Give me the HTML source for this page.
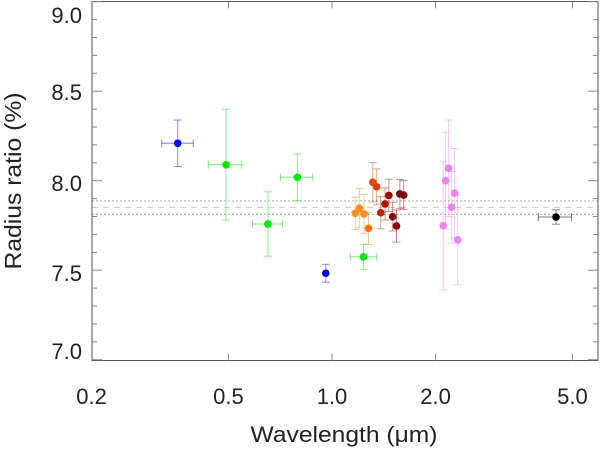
<!DOCTYPE html>
<html><head><meta charset="utf-8"><style>
body{margin:0;background:#fff;}
svg{display:block;font-family:"Liberation Sans",sans-serif;}
</style></head><body>
<svg id="chart" width="600" height="450">
<g id="axes"></g><g id="marks"></g>
</svg>
<script>
const xTicks=[0.2,0.5,1.0,2.0,5.0];
const xTickLabels=["0.2","0.5","1.0","2.0","5.0"];
const yTicks=[7.0,7.5,8.0,8.5,9.0];
const yTickLabels=["7.0","7.5","8.0","8.5","9.0"];
const wavelengths=[0.356,0.492,0.651,0.793,0.959,1.235,1.168,1.201,1.239,1.277,1.314,1.348,1.386,1.426,1.463,1.501,1.54,1.575,1.616,2.105,2.138,2.182,2.227,2.272,2.32,4.48];
const wlLow=[0.320,0.437,0.588,0.708,0.959,1.13,1.168,1.201,1.239,1.277,1.314,1.348,1.386,1.426,1.463,1.501,1.54,1.575,1.616,2.105,2.138,2.182,2.227,2.272,2.32,3.98];
const wlHigh=[0.395,0.547,0.718,0.879,0.959,1.35,1.168,1.201,1.239,1.277,1.314,1.348,1.386,1.426,1.463,1.501,1.54,1.575,1.616,2.105,2.138,2.182,2.227,2.272,2.32,4.97];
const ratios=[8.209,8.089,7.758,8.019,7.483,7.575,7.818,7.846,7.814,7.734,7.991,7.966,7.821,7.87,7.918,7.799,7.747,7.926,7.92,7.749,8.0,8.069,7.851,7.93,7.669,7.797];
const ratioErr=[0.13,0.31,0.18,0.13,0.05,0.07,0.09,0.11,0.11,0.09,0.11,0.1,0.09,0.09,0.09,0.08,0.09,0.08,0.08,0.36,0.27,0.27,0.2,0.25,0.25,0.04];
const colors=["#0000e6","#00e600","#00e600","#00e600","#0000e6","#00e600","#ff8a1e","#ff8a1e","#ff8a1e","#ff7010","#e04a00","#d84000","#c02000","#b51000","#a00000","#900000","#8a0000","#7a0000","#7a0000","#ee82ee","#ee82ee","#ee82ee","#ee82ee","#ee82ee","#ee82ee","#000000"];
const bandLevels=[7.887,7.851,7.812];

const L=92,R=598,T=1.5,B=360.5;
const X=v=>332+344*Math.log10(v);
const Y=v=>180.7-(v-8)*179;
const NS="http://www.w3.org/2000/svg";
function mk(parent,tag,attrs){const e=document.createElementNS(NS,tag);for(const k in attrs)e.setAttribute(k,attrs[k]);parent.appendChild(e);return e;}
const ax=document.getElementById('axes'),mg=document.getElementById('marks');

bandLevels.forEach((b,i)=>{
 const l=mk(ax,'line',{x1:L,x2:R,y1:Y(b),y2:Y(b),stroke:i==1?'#ccc':'#aaa','stroke-width':1,'stroke-dasharray':i==1?'6,5':'2,2'});
 
 
});
const frame=mk(ax,'rect',{x:L,y:T,width:R-L,height:B-T,fill:'none',stroke:'#555','stroke-width':1});


for(let k=0;k<=20;k++){const v=7+k*0.1;const y=Y(v);const major=k%5==0;
 mk(ax,'line',{x1:L,x2:L+(major?10:5),y1:y,y2:y,stroke:'#888'});mk(ax,'line',{x1:R,x2:R-(major?10:5),y1:y,y2:y,stroke:'#888'});}
const yLabelPos=[351,273,183,92,15];
yTicks.forEach((t,i)=>{const e=mk(ax,'text',{x:82,y:yLabelPos[i]+8,'text-anchor':'end','font-size':22,fill:'#222'});e.textContent=yTickLabels[i];
 });
xTicks.forEach((t,i)=>{const x=X(t);
 if(i>0){mk(ax,'line',{x1:x,x2:x,y1:B,y2:B-7,stroke:'#888'});mk(ax,'line',{x1:x,x2:x,y1:T,y2:T+7,stroke:'#888'});}
 const e=mk(ax,'text',{x:x,y:404,'text-anchor':'middle','font-size':22,fill:'#222'});e.textContent=xTickLabels[i];
 });
const xt=mk(ax,'text',{x:344,y:442,'text-anchor':'middle','font-size':22,fill:'#222',textLength:187,lengthAdjust:'spacingAndGlyphs'});xt.textContent='Wavelength (μm)';

const yt=mk(ax,'text',{x:0,y:0,'text-anchor':'middle','font-size':23,fill:'#222',textLength:177,lengthAdjust:'spacingAndGlyphs',transform:'translate(21,181) rotate(-90)'});yt.textContent='Radius ratio (%)';


wavelengths.forEach((w,i)=>{
 const g=mk(mg,'g',{});
 
 
 const x=X(w),y=Y(ratios[i]),c=colors[i];
 const y1=Y(ratios[i]+ratioErr[i]),y2=Y(ratios[i]-ratioErr[i]);
 mk(g,'line',{x1:x,x2:x,y1:y1,y2:y2,stroke:c,'stroke-opacity':0.45});
 mk(g,'line',{x1:x-4,x2:x+4,y1:y1,y2:y1,stroke:c,'stroke-opacity':0.45});
 mk(g,'line',{x1:x-4,x2:x+4,y1:y2,y2:y2,stroke:c,'stroke-opacity':0.45});
 if(wlHigh[i]>wlLow[i]){const xa=X(wlLow[i]),xb=X(wlHigh[i]);
  mk(g,'line',{x1:xa,x2:xb,y1:y,y2:y,stroke:c,'stroke-opacity':0.5});
  mk(g,'line',{x1:xa,x2:xa,y1:y-4,y2:y+4,stroke:c,'stroke-opacity':0.5});
  mk(g,'line',{x1:xb,x2:xb,y1:y-4,y2:y+4,stroke:c,'stroke-opacity':0.5});}
 mk(g,'circle',{cx:x,cy:y,r:3.8,fill:c});
});
</script>
</body></html>
